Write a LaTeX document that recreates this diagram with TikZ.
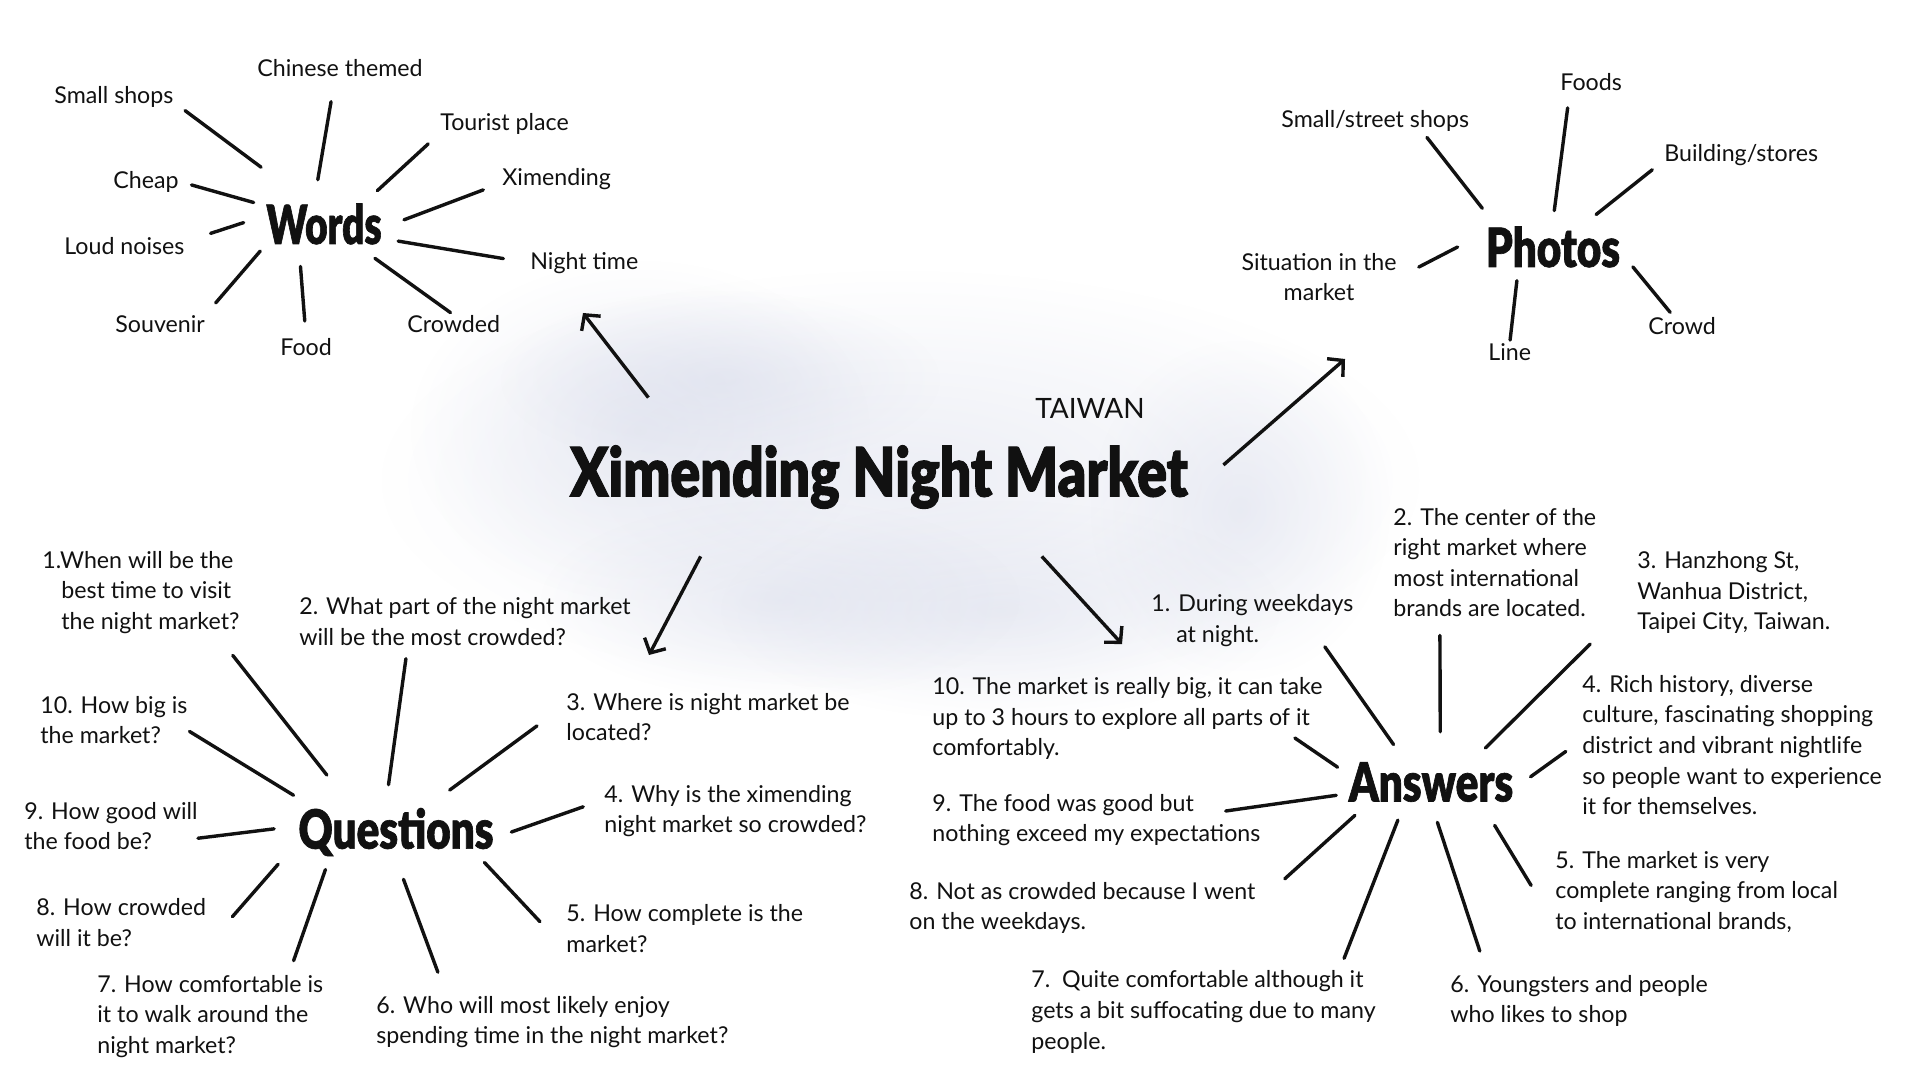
\documentclass[tikz,border=0pt]{standalone}
\usepackage{fontspec}
\setmainfont{Lato}
\newfontfamily\headfont{Lato Black}[FakeStretch=0.78,FakeBold=1.2]
\newfontfamily\titlefont{Lato Black}[FakeStretch=0.815,FakeBold=1.5]
\usepackage{tikz}
\usetikzlibrary{arrows.meta,shapes.geometric,fadings}
\definecolor{mapink}{HTML}{111111}
\definecolor{mapcloud}{HTML}{D6DAEA}
\tikzfading[name=cloudfade,inner color=transparent!0,outer color=transparent!100]

\begin{document}
\begin{tikzpicture}[x=0.5pt,y=-0.5pt]
\tikzset{
lbl/.style={font=\fontsize{11.6}{15.3}\selectfont,inner sep=0pt,align=left,anchor=west,text=mapink},
hub/.style={ellipse,inner sep=0pt,font=\headfont\fontsize{27}{27}\selectfont,text=mapink},
spoke/.style={line width=1.7pt,line cap=round,color=mapink},
big/.style={-{Straight Barb[length=5.5pt,width=12pt]},line width=1.7pt,color=mapink},
blob/.style={fill=mapcloud,path fading=cloudfade,fill opacity=0.45}}

\useasboundingbox (0,0) rectangle (1920,1080);
\fill[white] (0,0) rectangle (1920,1080);

% soft cloud behind the title
\fill[blob] (900,480) ellipse (520 and 210);
\fill[blob] (640,430) ellipse (230 and 170);
\fill[blob] (1240,510) ellipse (150 and 170);
\fill[blob] (1000,610) ellipse (280 and 110);
\fill[blob] (780,600) ellipse (240 and 100);
\fill[blob] (720,380) ellipse (220 and 90);

\node[minimum width=344pt,minimum height=79pt,inner sep=0pt,text=mapink,
  font=\titlefont\fontsize{34}{34}\selectfont] (title) at (879,477) {Ximending Night Market};
\node[font=\fontsize{14}{14}\selectfont,text=mapink] (taiwan) at (1090,408) {TAIWAN};

\node[hub,minimum width=80pt,minimum height=44pt] (words) at (324,224) {\makebox[0pt]{\scalebox{.92}[1]{Words}}};
\node[hub,minimum width=95pt,minimum height=36pt] (photos) at (1553,247) {\makebox[0pt]{Photos}};
\node[hub,minimum width=115pt,minimum height=47pt] (questions) at (396,832) {\makebox[0pt]{Questions}};
\node[hub,minimum width=100pt,minimum height=40pt] (answers) at (1431,782) {\makebox[0pt]{Answers}};

\coordinate (tipwords) at (583,313);
\coordinate (tipphotos) at (1345,359);
\coordinate (tipquestions) at (649,655);
\coordinate (tipanswers) at (1122,644);

\draw[big] (title.161) -- (tipwords);
\draw[big] (title.2) -- (tipphotos);
\draw[big] (title.204) -- (tipquestions);
\draw[big] (title.334) -- (tipanswers);

% words
\node[lbl] (w-chinese) at (257,68) {Chinese themed};
\node[lbl] (w-small) at (54,97) {Small shops};
\node[lbl] (w-tourist) at (440,124) {Tourist place};
\node[lbl] (w-cheap) at (113,182) {Cheap};
\node[lbl] (w-ximen) at (502,179) {Ximending};
\node[lbl] (w-loud) at (64,246) {Loud noises};
\node[lbl] (w-night) at (530,263) {Night time};
\node[lbl] (w-souv) at (115,324) {Souvenir};
\node[lbl] (w-food) at (280,347) {Food};
\node[lbl] (w-crowded) at (407,324) {Crowded};

\draw[spoke,shorten <=15pt,shorten >=7pt] (words.135.5) -- (w-small.-5.3);
\draw[spoke,shorten >=12.5pt] (words.98) -- (w-chinese.242);
\draw[spoke,shorten >=8pt] (words.32.4) -- (w-tourist.188.4);
\draw[spoke,shorten >=6.5pt] (words.163.7) -- (w-cheap.1.3);
\draw[spoke,shorten >=10pt] (words.3.8) -- (w-ximen.184.6);
\draw[spoke,shorten >=13.5pt] (words.179) -- (w-loud.4.6);
\draw[spoke,shorten >=13.5pt] (words.-13.9) -- (w-night.180);
\draw[spoke,shorten >=8pt] (words.203) -- (w-souv.north east);
\draw[spoke,shorten >=8.5pt] (words.241.2) -- (w-food.north);
\draw[spoke,shorten >=2pt] (words.-34.7) -- (w-crowded.north);

% photos
\node[lbl] (p-foods) at (1560,82) {Foods};
\node[lbl] (p-small) at (1281,121) {Small/street shops};
\node[lbl] (p-build) at (1664,155) {Building/stores};
\node[lbl,align=center,anchor=center] (p-situ) at (1319,277) {Situation in the\\market};
\node[lbl] (p-line) at (1488,352) {Line};
\node[lbl] (p-crowd) at (1648,326) {Crowd};

\draw[spoke,shorten <=7pt,shorten >=3.5pt] (photos.156) -- (p-small.-13.7);
\draw[spoke,shorten >=8.5pt] (photos.88) -- (p-foods.203.2);
\draw[spoke,shorten >=7.5pt] (photos.37.3) -- (p-build.184.1);
\draw[spoke,shorten >=12.3pt] (photos.180) -- (p-situ.-1.5);
\draw[spoke,shorten >=1.5pt] (photos.223.2) -- (p-line.north);
\draw[spoke,shorten >=3pt] (photos.-14) -- (p-crowd.132);

% questions
\node[lbl] (q1) at (42,592.5) {1.When will be the\\\phantom{1.}best time to visit\\\phantom{1.}the night market?};
\node[lbl] (q2) at (299,621.5) {2. What part of the night market\\will be the most crowded?};
\node[lbl] (q3) at (566,717) {3. Where is night market be\\located?};
\node[lbl] (q4) at (604,811) {4. Why is the ximending\\night market so crowded?};
\node[lbl] (q5) at (566,928.5) {5. How complete is the\\market?};
\node[lbl] (q6) at (376,1022) {6. Who will most likely enjoy\\spending time in the night market?};
\node[lbl] (q7) at (97,1016.5) {7. How comfortable is\\it to walk around the\\night market?};
\node[lbl] (q8) at (36,922.5) {8. How crowded\\will it be?};
\node[lbl] (q9) at (24,826) {9. How good will\\the food be?};
\node[lbl] (q10) at (40,720) {10. How big is\\the market?};

\draw[spoke,shorten <=10pt,shorten >=13.5pt] (questions.144.5) -- (q1.-29);
\draw[spoke,shorten >=6.5pt] (questions.99.3) -- (q2.203.7);
\draw[spoke,shorten >=18pt] (questions.38.8) -- (q3.175.1);
\draw[spoke,shorten >=11pt] (questions.0) -- (q4.175.2);
\draw[spoke,shorten >=19pt] (questions.-19) -- (q5.190.6);
\draw[spoke,shorten >=12.5pt] (questions.-81.5) -- (q6.166);
\draw[spoke,shorten >=7.5pt] (questions.208.7) -- (q7.28.6);
\draw[spoke,shorten <=9pt,shorten >=20pt] (questions.190.7) -- (q8.-16.1);
\draw[spoke,shorten <=3.5pt] (questions.178.6) -- (q9.-8.5);
\draw[spoke,shorten <=7pt,shorten >=1pt] (questions.162.4) -- (q10.-8.5);

% answers
\node[lbl] (a1) at (1151,620.5) {1. During weekdays\\\phantom{1.~}at night.};
\node[lbl] (a2) at (1393,562.5) {2. The center of the\\right market where\\most international\\brands are located.};
\node[lbl] (a3) at (1637,592.5) {3. Hanzhong St,\\Wanhua District,\\Taipei City, Taiwan.};
\node[lbl] (a4) at (1582,745) {4. Rich history, diverse\\culture, fascinating shopping\\district and vibrant nightlife\\so people want to experience\\it for themselves.};
\node[lbl] (a5) at (1555,892) {5. The market is very\\complete ranging from local\\to international brands,};
\node[lbl] (a6) at (1450,1001) {6. Youngsters and people\\who likes to shop};
\node[lbl] (a7) at (1031,1012) {7.\ \ Quite comfortable although it\\gets a bit suffocating due to many\\people.};
\node[lbl] (a8) at (909,908) {8. Not as crowded because I went\\on the weekdays.};
\node[lbl] (a9) at (932,820) {9. The food was good but\\nothing exceed my expectations};
\node[lbl] (a10) at (932,718.5) {10. The market is really big, it can take\\up to 3 hours to explore all parts of it\\comfortably.};

\draw[spoke] (answers.135.8) -- (a1.-20.9);
\draw[spoke,shorten <=5pt,shorten >=9pt] (answers.77.6) -- (a2.225.8);
\draw[spoke,shorten >=33pt] (answers.32.1) -- (a3.183.2);
\draw[spoke,shorten >=10pt] (answers.3.8) -- (a4.178.5);
\draw[spoke,shorten <=6pt,shorten >=23pt] (answers.-30.6) -- (a5.193.3);
\draw[spoke,shorten >=12.5pt] (answers.-81) -- (a6.164.5);
\draw[spoke,shorten >=6.5pt] (answers.229.8) -- (a7.17.2);
\draw[spoke,shorten <=3.5pt,shorten >=19.5pt] (answers.202.8) -- (a8.1);
\draw[spoke] (answers.188.7) -- ([xshift=-17.5pt,yshift=4.5pt]a9.east);
\draw[spoke] (answers.171.3) -- ([xshift=-14pt,yshift=11pt]a10.south east);
\end{tikzpicture}
\end{document}
